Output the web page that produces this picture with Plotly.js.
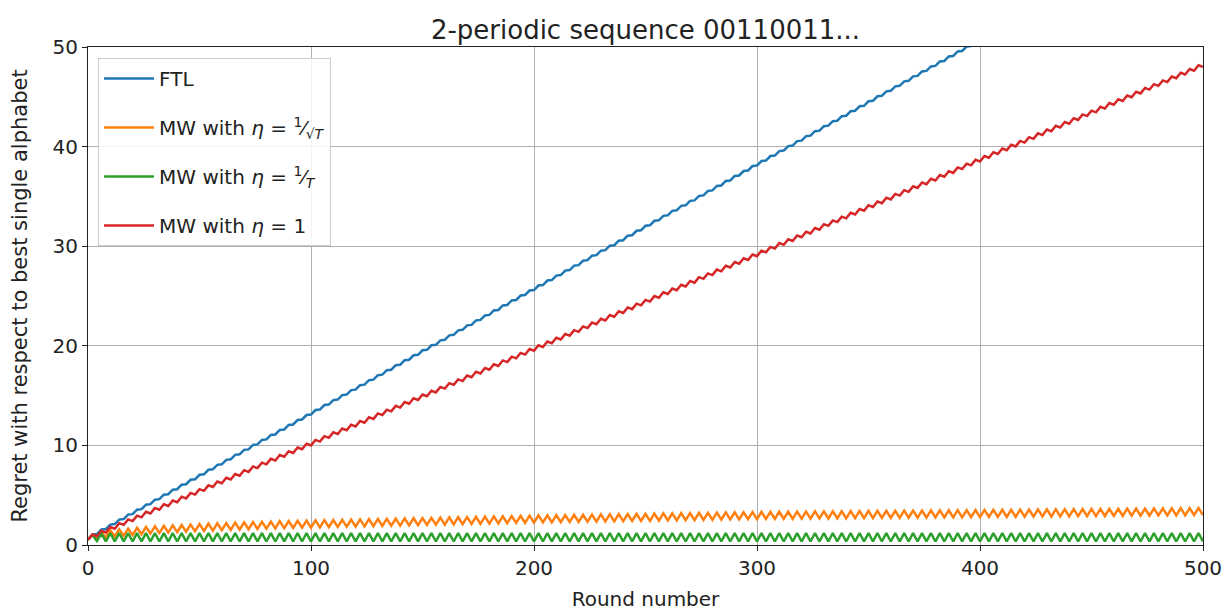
<!DOCTYPE html>
<html>
<head>
<meta charset="utf-8">
<script src="https://cdn.plot.ly/plotly-3.0.1.min.js"></script>
<style>html,body{margin:0;padding:0;background:#fff;}#chart{width:1232px;height:613px;}</style>
</head>
<body>
<div id="chart"></div>
<script>
// Rounds: troughs at rounds 0,4,8,...; peaks at rounds 2,6,10,... (period-4 sequence 0011)
const PERIOD = 4;

// FTL (clipped above 50)
const ftlTroughs = [0.6,1.1,1.6,2.1,2.6,3.1,3.6,4.1,4.6,5.1,5.6,6.1,6.6,7.1,7.6,8.1,8.6,9.1,9.6,10.1,10.6,11.1,11.6,12.1,12.6,13.1,13.6,14.1,14.6,15.1,15.6,16.1,16.6,17.1,17.6,18.1,18.6,19.1,19.6,20.1,20.6,21.1,21.6,22.1,22.6,23.1,23.6,24.1,24.6,25.1,25.6,26.1,26.6,27.1,27.6,28.1,28.6,29.1,29.6,30.1,30.6,31.1,31.6,32.1,32.6,33.1,33.6,34.1,34.6,35.1,35.6,36.1,36.6,37.1,37.6,38.1,38.6,39.1,39.6,40.1,40.6,41.1,41.6,42.1,42.6,43.1,43.6,44.1,44.6,45.1,45.6,46.1,46.6,47.1,47.6,48.1,48.6,49.1,49.6,50.1,50.6,51.1,51.6];
const ftlPeaks = [1.05,1.55,2.05,2.55,3.05,3.55,4.05,4.55,5.05,5.55,6.05,6.55,7.05,7.55,8.05,8.55,9.05,9.55,10.05,10.55,11.05,11.55,12.05,12.55,13.05,13.55,14.05,14.55,15.05,15.55,16.05,16.55,17.05,17.55,18.05,18.55,19.05,19.55,20.05,20.55,21.05,21.55,22.05,22.55,23.05,23.55,24.05,24.55,25.05,25.55,26.05,26.55,27.05,27.55,28.05,28.55,29.05,29.55,30.05,30.55,31.05,31.55,32.05,32.55,33.05,33.55,34.05,34.55,35.05,35.55,36.05,36.55,37.05,37.55,38.05,38.55,39.05,39.55,40.05,40.55,41.05,41.55,42.05,42.55,43.05,43.55,44.05,44.55,45.05,45.55,46.05,46.55,47.05,47.55,48.05,48.55,49.05,49.55,50.05,50.55,51.05];

// MW with eta = 1/sqrt(T)
const mwSqrtTroughs = [0.55,0.6,0.75,0.85,0.92,1.0,1.09,1.15,1.2,1.25,1.29,1.33,1.38,1.42,1.45,1.49,1.52,1.55,1.58,1.61,1.64,1.67,1.69,1.71,1.73,1.75,1.77,1.79,1.81,1.83,1.85,1.87,1.89,1.91,1.93,1.95,1.97,1.99,2.01,2.03,2.05,2.07,2.09,2.11,2.13,2.15,2.17,2.19,2.21,2.23,2.25,2.26,2.28,2.29,2.31,2.32,2.34,2.35,2.36,2.38,2.39,2.41,2.42,2.43,2.45,2.46,2.48,2.49,2.5,2.52,2.53,2.55,2.56,2.57,2.59,2.6,2.61,2.62,2.62,2.63,2.64,2.65,2.66,2.66,2.67,2.68,2.69,2.7,2.7,2.71,2.72,2.73,2.74,2.74,2.75,2.76,2.77,2.78,2.78,2.79,2.8,2.81,2.82,2.82,2.83,2.84,2.85,2.86,2.86,2.87,2.88,2.89,2.9,2.9,2.91,2.92,2.93,2.94,2.94,2.95,2.96,2.97,2.98,2.98,2.99,3.0];
const mwSqrtPeaks = [1.05,1.3,1.47,1.57,1.64,1.72,1.81,1.87,1.92,1.97,2.01,2.05,2.1,2.14,2.17,2.21,2.24,2.27,2.3,2.33,2.36,2.39,2.41,2.43,2.45,2.47,2.49,2.51,2.53,2.55,2.57,2.59,2.61,2.63,2.65,2.67,2.69,2.71,2.73,2.75,2.77,2.79,2.81,2.83,2.85,2.87,2.89,2.91,2.93,2.95,2.97,2.98,3.0,3.01,3.03,3.04,3.06,3.07,3.08,3.1,3.11,3.13,3.14,3.15,3.17,3.18,3.2,3.21,3.22,3.24,3.25,3.27,3.28,3.29,3.31,3.32,3.33,3.34,3.34,3.35,3.36,3.37,3.38,3.38,3.39,3.4,3.41,3.42,3.42,3.43,3.44,3.45,3.46,3.46,3.47,3.48,3.49,3.5,3.5,3.51,3.52,3.53,3.54,3.54,3.55,3.56,3.57,3.58,3.58,3.59,3.6,3.61,3.62,3.62,3.63,3.64,3.65,3.66,3.66,3.67,3.68,3.69,3.7,3.7,3.71];

// MW with eta = 1/T
const mwInvTroughs = [0.5,0.4,0.35,0.35,0.35,0.35,0.35,0.35,0.35,0.35,0.35,0.35,0.35,0.35,0.35,0.35,0.35,0.35,0.35,0.35,0.35,0.35,0.35,0.35,0.35,0.35,0.35,0.35,0.35,0.35,0.35,0.35,0.35,0.35,0.35,0.35,0.35,0.35,0.35,0.35,0.35,0.35,0.35,0.35,0.35,0.35,0.35,0.35,0.35,0.35,0.35,0.35,0.35,0.35,0.35,0.35,0.35,0.35,0.35,0.35,0.35,0.35,0.35,0.35,0.35,0.35,0.35,0.35,0.35,0.35,0.35,0.35,0.35,0.35,0.35,0.35,0.35,0.35,0.35,0.35,0.35,0.35,0.35,0.35,0.35,0.35,0.35,0.35,0.35,0.35,0.35,0.35,0.35,0.35,0.35,0.35,0.35,0.35,0.35,0.35,0.35,0.35,0.35,0.35,0.35,0.35,0.35,0.35,0.35,0.35,0.35,0.35,0.35,0.35,0.35,0.35,0.35,0.35,0.35,0.35,0.35,0.35,0.35,0.35,0.35,0.35];
const mwInvPeaks = [1.0,1.15,1.2,1.2,1.2,1.2,1.2,1.2,1.2,1.2,1.2,1.2,1.2,1.2,1.2,1.2,1.2,1.2,1.2,1.2,1.2,1.2,1.2,1.2,1.2,1.2,1.2,1.2,1.2,1.2,1.2,1.2,1.2,1.2,1.2,1.2,1.2,1.2,1.2,1.2,1.2,1.2,1.2,1.2,1.2,1.2,1.2,1.2,1.2,1.2,1.2,1.2,1.2,1.2,1.2,1.2,1.2,1.2,1.2,1.2,1.2,1.2,1.2,1.2,1.2,1.2,1.2,1.2,1.2,1.2,1.2,1.2,1.2,1.2,1.2,1.2,1.2,1.2,1.2,1.2,1.2,1.2,1.2,1.2,1.2,1.2,1.2,1.2,1.2,1.2,1.2,1.2,1.2,1.2,1.2,1.2,1.2,1.2,1.2,1.2,1.2,1.2,1.2,1.2,1.2,1.2,1.2,1.2,1.2,1.2,1.2,1.2,1.2,1.2,1.2,1.2,1.2,1.2,1.2,1.2,1.2,1.2,1.2,1.2,1.2];

// MW with eta = 1
const mwOneTroughs = [0.5,0.88,1.26,1.64,2.02,2.4,2.78,3.16,3.54,3.92,4.3,4.68,5.06,5.44,5.82,6.2,6.58,6.96,7.34,7.72,8.1,8.48,8.86,9.24,9.62,10.0,10.38,10.76,11.14,11.52,11.9,12.28,12.66,13.04,13.42,13.8,14.18,14.56,14.94,15.32,15.7,16.08,16.46,16.84,17.22,17.6,17.98,18.36,18.74,19.12,19.5,19.88,20.26,20.64,21.02,21.4,21.78,22.16,22.54,22.92,23.3,23.68,24.06,24.44,24.82,25.2,25.58,25.96,26.34,26.72,27.1,27.48,27.86,28.24,28.62,29.0,29.38,29.76,30.14,30.52,30.9,31.28,31.66,32.04,32.42,32.8,33.18,33.56,33.94,34.32,34.7,35.08,35.46,35.84,36.22,36.6,36.98,37.36,37.74,38.12,38.5,38.88,39.26,39.64,40.02,40.4,40.78,41.16,41.54,41.92,42.3,42.68,43.06,43.44,43.82,44.2,44.58,44.96,45.34,45.72,46.1,46.48,46.86,47.24,47.62,48.0];
const mwOnePeaks = [1.05,1.43,1.81,2.19,2.57,2.95,3.33,3.71,4.09,4.47,4.85,5.23,5.61,5.99,6.37,6.75,7.13,7.51,7.89,8.27,8.65,9.03,9.41,9.79,10.17,10.55,10.93,11.31,11.69,12.07,12.45,12.83,13.21,13.59,13.97,14.35,14.73,15.11,15.49,15.87,16.25,16.63,17.01,17.39,17.77,18.15,18.53,18.91,19.29,19.67,20.05,20.43,20.81,21.19,21.57,21.95,22.33,22.71,23.09,23.47,23.85,24.23,24.61,24.99,25.37,25.75,26.13,26.51,26.89,27.27,27.65,28.03,28.41,28.79,29.17,29.55,29.93,30.31,30.69,31.07,31.45,31.83,32.21,32.59,32.97,33.35,33.73,34.11,34.49,34.87,35.25,35.63,36.01,36.39,36.77,37.15,37.53,37.91,38.29,38.67,39.05,39.43,39.81,40.19,40.57,40.95,41.33,41.71,42.09,42.47,42.85,43.23,43.61,43.99,44.37,44.75,45.13,45.51,45.89,46.27,46.65,47.03,47.41,47.79,48.17];

const seriesNames = [
  "FTL",
  "MW with <i>η</i> = <sup>1</sup>⁄<sub>√<i>T</i></sub>",
  "MW with <i>η</i> = <sup>1</sup>⁄<sub><i>T</i></sub>",
  "MW with <i>η</i> = 1"
];
const seriesColors = ["#1f77b4", "#ff7f0e", "#2ca02c", "#d62728"];
const xTicks = [0, 100, 200, 300, 400, 500];
const yTicks = [0, 10, 20, 30, 40, 50];

function zig(troughs, peaks) {
  const x = [], y = [];
  for (let i = 0; i < troughs.length; i++) {
    x.push(i * PERIOD); y.push(troughs[i]);
    if (i < peaks.length) { x.push(i * PERIOD + PERIOD / 2); y.push(peaks[i]); }
  }
  return {x, y};
}

const data = [[ftlTroughs, ftlPeaks], [mwSqrtTroughs, mwSqrtPeaks], [mwInvTroughs, mwInvPeaks], [mwOneTroughs, mwOnePeaks]]
  .map((p, i) => {
    const s = zig(p[0], p[1]);
    return {
      type: "scatter", mode: "lines", x: s.x, y: s.y, name: seriesNames[i],
      legendgroup: "g" + i,
      line: {color: seriesColors[i], width: 2.5}
    };
  });

const FONT = "DejaVu Sans, sans-serif";
const layout = {
  width: 1232, height: 613,
  margin: {l: 88, r: 29, t: 47, b: 68},
  paper_bgcolor: "#fff", plot_bgcolor: "#fff",
  font: {family: FONT, color: "#222", size: 19},
  title: {text: "2-periodic sequence 00110011...", x: 0.5, xref: "paper", y: 0.951, yref: "container", yanchor: "middle", font: {size: 26, family: FONT, color: "#222"}},
  xaxis: {
    range: [0, 500], tickvals: xTicks, ticktext: xTicks.map(String),
    showgrid: true, gridcolor: "#b0b0b0", gridwidth: 1,
    showline: true, linecolor: "#222", linewidth: 1, mirror: true,
    ticks: "outside", ticklen: 5, tickcolor: "#222", zeroline: false,
    tickfont: {size: 20},
    title: {text: "Round number", font: {size: 20}, standoff: 12}
  },
  yaxis: {
    range: [0, 50], tickvals: yTicks, ticktext: yTicks.map(String),
    showgrid: true, gridcolor: "#b0b0b0", gridwidth: 1,
    showline: true, linecolor: "#222", linewidth: 1, mirror: true,
    ticks: "outside", ticklen: 5, tickcolor: "#222", zeroline: false,
    tickfont: {size: 20},
    title: {text: "Regret with respect to best single alphabet", font: {size: 21}, standoff: 19}
  },
  legend: {
    x: 0.009, y: 0.978, xanchor: "left", yanchor: "top",
    bgcolor: "rgba(255,255,255,0.85)", bordercolor: "#cccccc", borderwidth: 1,
    font: {size: 20}, tracegroupgap: 20, itemwidth: 50
  },
  showlegend: true
};

Plotly.newPlot("chart", data, layout, {displayModeBar: false, staticPlot: true});
</script>
</body>
</html>
